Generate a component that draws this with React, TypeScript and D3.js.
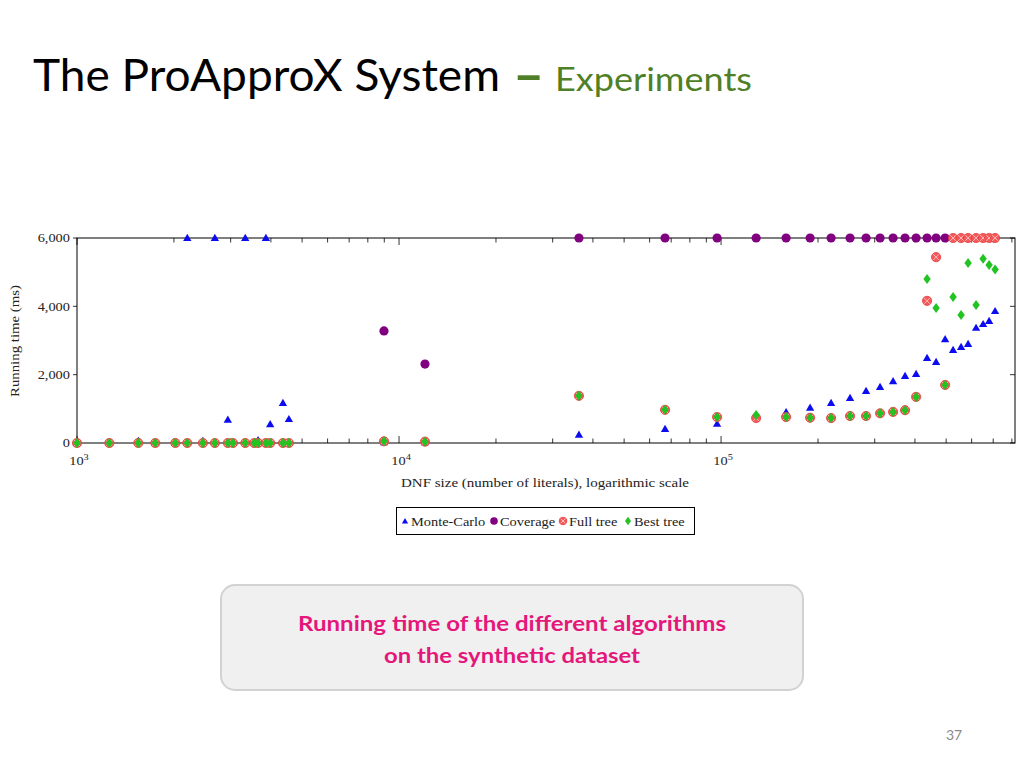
import React from 'react';
import * as d3 from 'd3';

// DNF sizes (number of literals) of the synthetic instances
const dnfSizes = [
  1000, 1260, 1550, 1750, 2020, 2200, 2460, 2680, 2940, 3050, 3330, 3550, 3650, 3860, 3980, 4360, 4550,
  8980, 12040, 36200, 67000, 97200, 128500, 159200, 189000, 219600, 251500, 282000, 311700, 342100,
  372700, 403300, 436200, 465300, 496300, 525400, 556300, 584900, 619300, 651200, 679800, 709400,
];

// Running times (ms), null = not shown
const monteCarlo: (number | null)[] = [
  0, 0, 60, 0, 0, 6000, 60, 6000, 680, 0, 6000, 0, 80, 6000, 550, 1170, 700,
  20, 20, 240, 410, 560, 760, 900, 1030, 1170, 1320, 1520, 1640, 1810,
  1960, 2020, 2490, 2370, 3040, 2720, 2810, 2900, 3370, 3480, 3570, 3860,
];
const coverage: (number | null)[] = [
  null, null, null, null, null, null, null, null, null, null, null, null, null, null, null, null, null,
  3280, 2310, 6000, 6000, 6000, 6000, 6000, 6000, 6000, 6000, 6000, 6000, 6000,
  6000, 6000, 6000, 6000, 6000, null, null, null, null, null, null, null,
];
const fullTree: (number | null)[] = [
  0, 0, 0, 0, 0, 0, 0, 0, 0, 0, 0, 0, 0, 0, 0, 0, 0,
  50, 40, 1380, 970, 760, 730, 760, 740, 730, 790, 790, 870, 910,
  960, 1350, 4160, 5440, 1700, 6000, 6000, 6000, 6000, 6000, 6000, 6000,
];
const bestTree: (number | null)[] = [
  0, 0, 0, 0, 0, 0, 0, 0, 0, 0, 0, 0, 0, 0, 0, 0, 0,
  50, 40, 1380, 970, 760, 820, 760, 740, 730, 790, 790, 870, 910,
  960, 1350, 4800, 3950, 1700, 4270, 3750, 5270, 4040, 5390, 5210, 5080,
];

const yTicks = [0, 2000, 4000, 6000];
const xDomain = [1000, 818000];
const legendLabels = ['Monte-Carlo', 'Coverage', 'Full tree', 'Best tree'];

const SERIF = '"Liberation Serif", "DejaVu Serif", serif';
const SANS = 'Lato, "Open Sans", sans-serif';
const SX = 1.15;

const BLUE = '#0c0cf0';
const PURPLE = '#800080';
const RED = '#f45a5a';
const GREEN = '#22c322';

function SText(props: any) {
  const { x, y, anchor = 'start', size = 12.5, children, ...rest } = props;
  return (
    <g transform={`translate(${x},${y}) scale(${SX},1)`}>
      <text textAnchor={anchor} fontSize={size} fontFamily={SERIF} fill="#222" {...rest}>
        {children}
      </text>
    </g>
  );
}

const triPath = d3.symbol(d3.symbolTriangle, 30)() as string;

function Tri({ cx, cy, s = 1 }: any) {
  return <path d={triPath} transform={`translate(${cx},${cy + 0.6}) scale(${s})`} fill={BLUE} />;
}
function Dot({ cx, cy, r = 4.6 }: any) {
  return <circle cx={cx} cy={cy} r={r} fill={PURPLE} />;
}
function OTimes({ cx, cy, r = 4.6 }: any) {
  const k = r * 0.62;
  return (
    <g transform={`translate(${cx},${cy})`}>
      <circle r={r} fill={RED} stroke="#e43c3c" strokeWidth={0.8} />
      <line x1={-k} y1={-k} x2={k} y2={k} stroke="#ffc4c4" strokeWidth={0.9} />
      <line x1={-k} y1={k} x2={k} y2={-k} stroke="#ffc4c4" strokeWidth={0.9} />
    </g>
  );
}
function Diamond({ cx, cy, w = 3.7, h = 5 }: any) {
  return <path d={`M0,${-h}L${w},0L0,${h}L${-w},0Z`} transform={`translate(${cx},${cy})`} fill={GREEN} />;
}

export default function App() {
  const left = 77, right = 1015, top = 238, bottom = 443;
  const x = d3.scaleLog().domain(xDomain).range([left, right]);
  const y = d3.scaleLinear().domain([0, 6000]).range([bottom, top]);

  const allTicks = x.ticks();
  const isMajor = (t: number) => Math.abs(Math.log10(t) - Math.round(Math.log10(t))) < 1e-9;
  const majors = allTicks.filter(isMajor);
  const minors = allTicks.filter((t) => !isMajor(t));

  const pts = (vals: (number | null)[]) =>
    dnfSizes.map((d, i) => ({ d, v: vals[i] })).filter((p) => p.v !== null) as { d: number; v: number }[];

  const legendY = 521;
  const legendItems = [
    { mx: 405, tx: 411 },
    { mx: 494, tx: 500 },
    { mx: 563, tx: 569 },
    { mx: 628, tx: 634 },
  ];

  return (
    <svg width={1024} height={768} style={{ position: 'absolute', left: 0, top: 0, background: '#fff' }}>
      <rect x={0} y={0} width={1024} height={768} fill="#fff" />
      {/* Title */}
      <text x={33} y={91} fontFamily={SANS} fontSize={44} fill="#000" textLength={467} lengthAdjust="spacingAndGlyphs">
        The ProApproX System
      </text>
      <text x={513} y={94} fontFamily={SANS} fontSize={54} fontWeight={700} fill="#4f7f26">
        –
      </text>
      <text x={555} y={91} fontFamily={SANS} fontSize={32} fill="#4f7f26" textLength={197} lengthAdjust="spacingAndGlyphs">
        Experiments
      </text>

      {/* Plot frame */}
      <rect x={left} y={top} width={right - left} height={bottom - top} fill="none" stroke="#000" strokeWidth={1} />

      {/* X ticks */}
      {minors.map((t) => (
        <g key={'mi' + t}>
          <line x1={x(t)} x2={x(t)} y1={bottom} y2={bottom - 4.5} stroke="#000" strokeWidth={0.8} />
          <line x1={x(t)} x2={x(t)} y1={top} y2={top + 4.5} stroke="#000" strokeWidth={0.8} />
        </g>
      ))}
      {majors.map((t) => (
        <g key={'ma' + t}>
          <line x1={x(t)} x2={x(t)} y1={bottom} y2={bottom - 7} stroke="#000" strokeWidth={0.8} />
          <line x1={x(t)} x2={x(t)} y1={top} y2={top + 7} stroke="#000" strokeWidth={0.8} />
          <SText x={x(t) + 2} y={465} anchor="middle" size={12.5}>
            10<tspan fontSize={9} dy={-5}>{Math.round(Math.log10(t))}</tspan>
          </SText>
        </g>
      ))}

      {/* Y ticks */}
      {yTicks.map((t) => (
        <g key={'y' + t}>
          <line x1={left - 4} x2={left} y1={y(t)} y2={y(t)} stroke="#000" strokeWidth={0.8} />
          <line x1={right - 5} x2={right} y1={y(t)} y2={y(t)} stroke="#000" strokeWidth={0.8} />
          <SText x={70} y={y(t) + 4.3} anchor="end" size={12.5}>
            {d3.format(',')(t)}
          </SText>
        </g>
      ))}

      {/* Axis labels */}
      <text
        transform={`translate(19,341) rotate(-90)`}
        textAnchor="middle"
        fontFamily={SERIF}
        fontSize={13.5}
        fill="#222"
        textLength={112}
        lengthAdjust="spacingAndGlyphs"
      >
        Running time (ms)
      </text>
      <text x={545} y={487} textAnchor="middle" fontFamily={SERIF} fontSize={13} fill="#222" textLength={288} lengthAdjust="spacingAndGlyphs">
        DNF size (number of literals), logarithmic scale
      </text>

      {/* Series */}
      <g>
        {pts(monteCarlo).map((p, i) => (
          <Tri key={'mc' + i} cx={x(p.d)} cy={y(p.v)} />
        ))}
      </g>
      <g>
        {pts(coverage).map((p, i) => (
          <Dot key={'cv' + i} cx={x(p.d)} cy={y(p.v)} />
        ))}
      </g>
      <g>
        {pts(fullTree).map((p, i) => (
          <OTimes key={'ft' + i} cx={x(p.d)} cy={y(p.v)} />
        ))}
      </g>
      <g>
        {pts(bestTree).map((p, i) => (
          <Diamond key={'bt' + i} cx={x(p.d)} cy={y(p.v)} />
        ))}
      </g>

      {/* Legend */}
      <rect x={396.5} y={507.5} width={298} height={27} fill="#fff" stroke="#000" strokeWidth={1} />
      <Tri cx={legendItems[0].mx} cy={legendY} s={0.75} />
      <Dot cx={legendItems[1].mx} cy={legendY} r={3.8} />
      <OTimes cx={legendItems[2].mx} cy={legendY} r={3.8} />
      <Diamond cx={legendItems[3].mx} cy={legendY} w={3} h={4.2} />
      {legendLabels.map((l, i) => (
        <SText key={l} x={legendItems[i].tx} y={525.5} size={12.5}>
          {l}
        </SText>
      ))}

      {/* Caption box */}
      <rect x={221} y={585} width={582} height={105} rx={14} ry={14} fill="#f0f0f0" stroke="#d2d2d2" strokeWidth={2} />
      <text x={512} y={631} textAnchor="middle" fontFamily={SANS} fontWeight={700} fontSize={20} fill="#e5177b" textLength={428} lengthAdjust="spacingAndGlyphs">
        Running time of the different algorithms
      </text>
      <text x={512} y={663} textAnchor="middle" fontFamily={SANS} fontWeight={700} fontSize={20} fill="#e5177b" textLength={256} lengthAdjust="spacingAndGlyphs">
        on the synthetic dataset
      </text>

      {/* Page number */}
      <text x={954} y={740} textAnchor="middle" fontFamily={SANS} fontSize={14} fill="#8a8a8a">
        37
      </text>
    </svg>
  );
}
